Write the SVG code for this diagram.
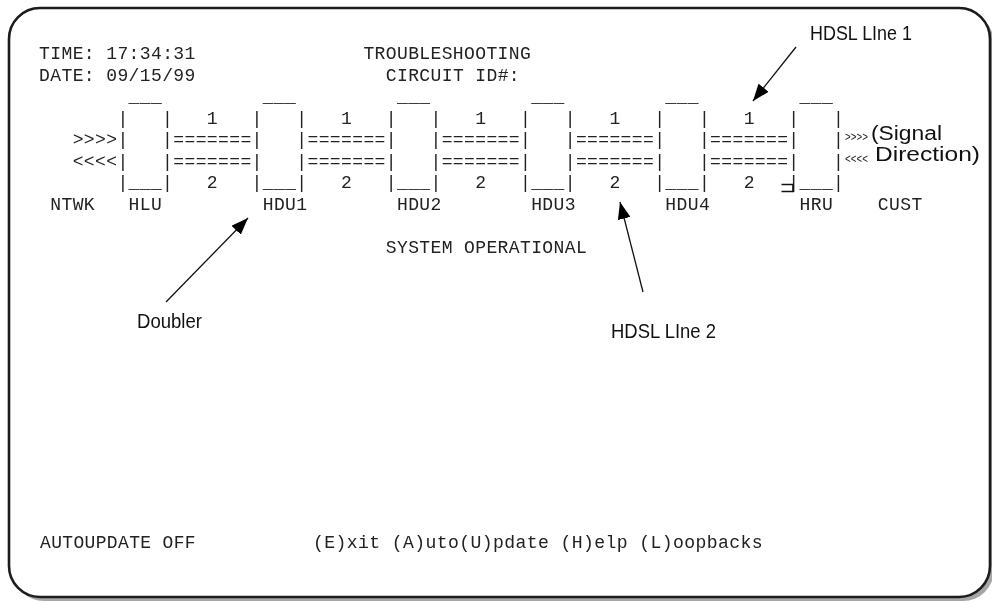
<svg xmlns="http://www.w3.org/2000/svg" width="992" height="603" viewBox="0 0 992 603">
<defs>
<style>
.m{font-family:"Liberation Mono","Courier New",monospace;font-size:18px;letter-spacing:0.383px;fill:#222;white-space:pre}
.a{font-family:"Liberation Sans",Arial,sans-serif;font-size:21px;fill:#111}
.c{stroke:#111;stroke-width:1.3;fill:none}
</style>
<filter id="gray" x="0" y="0" width="992" height="603" filterUnits="userSpaceOnUse">
<feColorMatrix type="saturate" values="0"/>
</filter>
<marker id="ah" viewBox="0 0 10 10" refX="10" refY="5" markerWidth="17" markerHeight="13" markerUnits="userSpaceOnUse" orient="auto" preserveAspectRatio="none">
<path d="M0,0 L10,5 L0,10 Z" fill="#000"/>
</marker>
</defs>
<rect width="992" height="603" fill="#fff"/>
<g id="frame">
<path d="M41,12 H963 A31 31 0 0 1 994 43 V570 A31 31 0 0 1 963 601 H44 A31 31 0 0 1 13 570 V43 Z" fill="#a6a6a6"/>
<path d="M40,8 H959 A31 31 0 0 1 990 39 V566 A31 31 0 0 1 959 597 H40 A31 31 0 0 1 9 566 V39 A31 31 0 0 1 40 8 Z" fill="#fff" stroke="#1c1c1c" stroke-width="2.6"/>
</g>
<g id="content" filter="url(#gray)">
<g id="screen-text">
<text class="m" x="39.1" y="59">TIME: 17:34:31</text>
<text class="m" x="39.1" y="80.5">DATE: 09/15/99</text>
<text class="m" x="363.4" y="59">TROUBLESHOOTING</text>
<text class="m" x="385.8" y="80.5">CIRCUIT ID#:</text>
<text class="m" x="72.65" y="145">&gt;&gt;&gt;&gt;</text>
<text class="m" x="72.65" y="166.5">&lt;&lt;&lt;&lt;</text>
<text class="m" x="50.28" y="209.5">NTWK</text>
<text class="m" x="877.83" y="209.5">CUST</text>
<text class="m" x="385.77" y="252.5">SYSTEM OPERATIONAL</text>
<text class="m" x="40" y="548" textLength="156" lengthAdjust="spacingAndGlyphs">AUTOUPDATE OFF</text>
<text class="m" x="313" y="548" textLength="450" lengthAdjust="spacingAndGlyphs">(E)xit (A)uto(U)pdate (H)elp (L)oopbacks</text>
</g>
<g id="node-HLU">
<text class="m" x="128.56" y="102">___</text>
<text class="m" x="117.38" y="123.5">|   |</text>
<text class="m" x="117.38" y="145">|   |</text>
<text class="m" x="117.38" y="166.5">|   |</text>
<text class="m" x="117.38" y="188">|___|</text>
<text class="m" x="128.56" y="209.5">HLU</text>
</g>
<g id="node-HDU1">
<text class="m" x="262.76" y="102">___</text>
<text class="m" x="251.58" y="123.5">|   |</text>
<text class="m" x="251.58" y="145">|   |</text>
<text class="m" x="251.58" y="166.5">|   |</text>
<text class="m" x="251.58" y="188">|___|</text>
<text class="m" x="262.76" y="209.5">HDU1</text>
</g>
<g id="node-HDU2">
<text class="m" x="396.96" y="102">___</text>
<text class="m" x="385.77" y="123.5">|   |</text>
<text class="m" x="385.77" y="145">|   |</text>
<text class="m" x="385.77" y="166.5">|   |</text>
<text class="m" x="385.77" y="188">|___|</text>
<text class="m" x="396.96" y="209.5">HDU2</text>
</g>
<g id="node-HDU3">
<text class="m" x="531.15" y="102">___</text>
<text class="m" x="519.97" y="123.5">|   |</text>
<text class="m" x="519.97" y="145">|   |</text>
<text class="m" x="519.97" y="166.5">|   |</text>
<text class="m" x="519.97" y="188">|___|</text>
<text class="m" x="531.15" y="209.5">HDU3</text>
</g>
<g id="node-HDU4">
<text class="m" x="665.35" y="102">___</text>
<text class="m" x="654.17" y="123.5">|   |</text>
<text class="m" x="654.17" y="145">|   |</text>
<text class="m" x="654.17" y="166.5">|   |</text>
<text class="m" x="654.17" y="188">|___|</text>
<text class="m" x="665.35" y="209.5">HDU4</text>
</g>
<g id="node-HRU">
<text class="m" x="799.54" y="102">___</text>
<text class="m" x="788.36" y="123.5">|   |</text>
<text class="m" x="788.36" y="145">|   |</text>
<text class="m" x="788.36" y="166.5">|   |</text>
<text class="m" x="788.36" y="188">|___|</text>
<text class="m" x="799.54" y="209.5">HRU</text>
<path d="M781.5,184.5 H793 V191.5 H781.5" fill="none" stroke="#111" stroke-width="1.6"/>
</g>
<g id="spans">
<text class="m" x="206.85" y="123.5">1</text>
<text class="m" x="173.30" y="145">=======</text>
<text class="m" x="173.30" y="166.5">=======</text>
<text class="m" x="206.85" y="188">2</text>
<text class="m" x="341.04" y="123.5">1</text>
<text class="m" x="307.49" y="145">=======</text>
<text class="m" x="307.49" y="166.5">=======</text>
<text class="m" x="341.04" y="188">2</text>
<text class="m" x="475.24" y="123.5">1</text>
<text class="m" x="441.69" y="145">=======</text>
<text class="m" x="441.69" y="166.5">=======</text>
<text class="m" x="475.24" y="188">2</text>
<text class="m" x="609.43" y="123.5">1</text>
<text class="m" x="575.88" y="145">=======</text>
<text class="m" x="575.88" y="166.5">=======</text>
<text class="m" x="609.43" y="188">2</text>
<text class="m" x="743.63" y="123.5">1</text>
<text class="m" x="710.08" y="145">=======</text>
<text class="m" x="710.08" y="166.5">=======</text>
<text class="m" x="743.63" y="188">2</text>
</g>
<g id="annotations">
<text class="a" x="810" y="40" textLength="102" lengthAdjust="spacingAndGlyphs">HDSL LIne 1</text>
<text class="a" x="137" y="328" textLength="65" lengthAdjust="spacingAndGlyphs">Doubler</text>
<text class="a" x="611" y="338" textLength="105" lengthAdjust="spacingAndGlyphs">HDSL LIne 2</text>
<text class="m" x="845" y="141" style="font-size:12px;letter-spacing:0" textLength="23" lengthAdjust="spacingAndGlyphs">&gt;&gt;&gt;&gt;</text>
<text class="m" x="845" y="163" style="font-size:12px;letter-spacing:0" textLength="23" lengthAdjust="spacingAndGlyphs">&lt;&lt;&lt;&lt;</text>
<text class="a" x="871" y="139.5" style="font-size:20px" textLength="71" lengthAdjust="spacingAndGlyphs">(Signal</text>
<text class="a" x="875" y="160.5" style="font-size:20px" textLength="105" lengthAdjust="spacingAndGlyphs">Direction)</text>
</g>
<g id="connectors">
<line class="c" x1="796" y1="47" x2="753" y2="101" marker-end="url(#ah)"/>
<line class="c" x1="166" y1="302" x2="248" y2="218" marker-end="url(#ah)"/>
<line class="c" x1="643" y1="292" x2="620" y2="202" marker-end="url(#ah)"/>
</g>
</g>
</svg>
